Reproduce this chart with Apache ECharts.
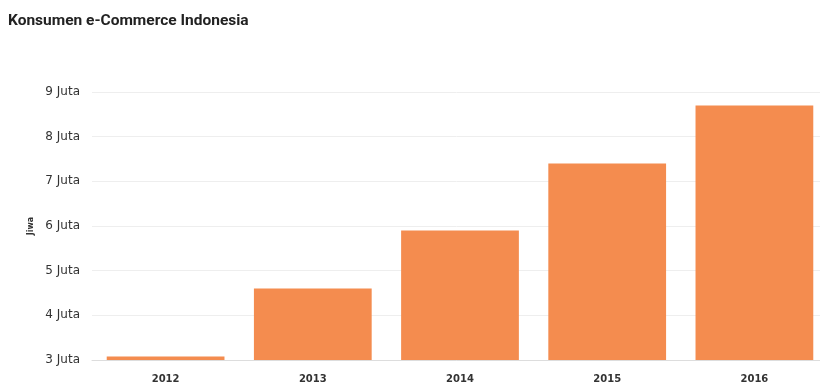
<!DOCTYPE html>
<html>
<head>
<meta charset="utf-8">
<script src="https://cdn.jsdelivr.net/npm/echarts@6/dist/echarts.min.js"></script>
<style>
  html, body { margin: 0; padding: 0; background: #fff; }
  #chart { width: 820px; height: 385px; }
</style>
</head>
<body>
<div id="chart"></div>
<script>
const years = ['2012', '2013', '2014', '2015', '2016'];
const konsumen = [3.08, 4.6, 5.9, 7.4, 8.7];

const chart = echarts.init(document.getElementById('chart'));

chart.setOption({
  animation: false,
  title: {
    text: 'Konsumen e-Commerce Indonesia',
    left: 3,
    top: 8,
    textStyle: { fontFamily: 'Roboto', fontSize: 15.5, fontWeight: 'bold', color: '#222' }
  },
  // plot area runs a little past the right edge, as in the source image
  grid: { left: 92, width: 736, top: 92, bottom: 25, outerBoundsMode: 'none' },
  xAxis: {
    type: 'category',
    data: years,
    axisLine: { lineStyle: { color: '#ddd' } },
    axisTick: { show: false },
    axisLabel: { margin: 14, fontFamily: 'DejaVu Sans', fontSize: 10, fontWeight: 'bold', color: '#333' }
  },
  yAxis: {
    type: 'value',
    min: 3,
    max: 9,
    interval: 1,
    name: 'Jiwa',
    nameLocation: 'middle',
    nameRotate: 90,
    nameGap: 57,
    nameTextStyle: { fontFamily: 'DejaVu Sans', fontSize: 8, fontWeight: 'bold', color: '#333' },
    axisLabel: {
      formatter: v => v + ' Juta',
      margin: 12,
      fontFamily: 'DejaVu Sans',
      fontSize: 12,
      color: '#333'
    },
    splitLine: { lineStyle: { color: '#eee' } }
  },
  series: [{
    type: 'bar',
    data: konsumen,
    barCategoryGap: '20%',
    itemStyle: { color: '#F48C4F' }
  }]
});
</script>
</body>
</html>
